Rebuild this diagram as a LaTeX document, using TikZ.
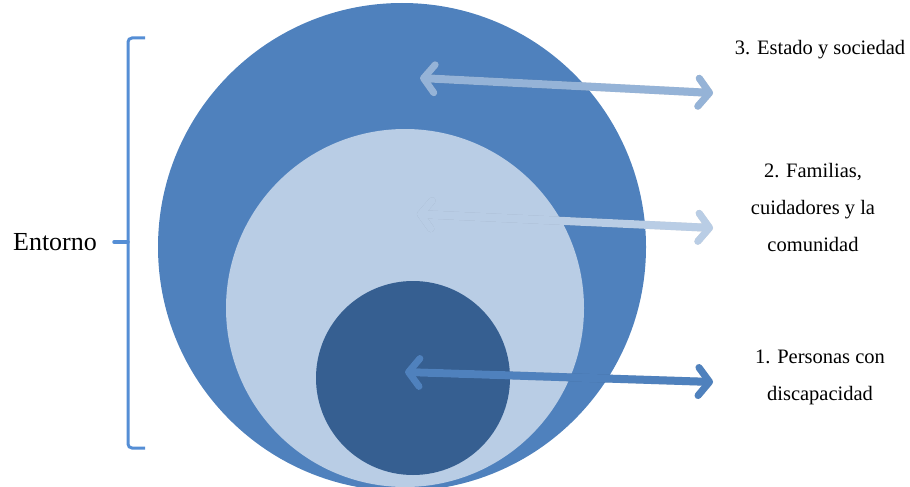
\documentclass[tikz,border=0pt]{standalone}
\usepackage{fontspec}
\setmainfont{Liberation Serif}
\usetikzlibrary{arrows.meta, positioning}
\definecolor{outer}{RGB}{79,129,189}
\definecolor{middle}{RGB}{185,205,229}
\definecolor{inner}{RGB}{54,95,145}
\definecolor{arrowtop}{RGB}{149,179,215}
\definecolor{arrowmid}{RGB}{185,205,229}
\definecolor{bracecol}{RGB}{85,142,213}

\begin{document}
\begin{tikzpicture}[
  x=1pt, y=-1pt,
  every node/.style={font=\fontsize{20.5}{37}\selectfont},
  ring/.style={circle, inner sep=0pt},
  label/.style={align=center},
  barb/.tip={Straight Barb[length=11pt, width=28pt, line width=7pt, line cap=round, line join=round]},
  link/.style={line width=8pt, line cap=round, {barb}-{barb}},
  shade/.style={link, black, opacity=0.14, shift={(1.5,3)}}
]
\useasboundingbox (0,0) rectangle (910,487);

\node[ring, fill=outer, minimum size=488pt] (big) at (402,247) {};
\node[ring, fill=middle, minimum size=358pt] (mid) at (405,308) {};
\node[ring, fill=inner, minimum size=194pt] (small) at (413,378) {};

\node[label] (t3) at (820,50) {3. Estado y sociedad};
\node[label] (t2) at (813,207) {2. Familias,\\cuidadores y la\\comunidad};
\node[label] (t1) at (820,377) {1. Personas con\\discapacidad};
\node[font=\fontsize{26}{30}\selectfont] (env) at (55,242) {Entorno};

\coordinate (a3) at (420,78);
\coordinate (b3) at (713,93);
\coordinate (a2) at (417,214);
\coordinate (b2) at (713,228);
\coordinate (a1) at (405,372);
\coordinate (b1) at (713,382);

% Arrows
\draw[shade] (a3) -- (b3);
\draw[link, arrowtop] (a3) -- (b3);
\draw[shade] (a2) -- (b2);
\draw[link, arrowmid] (a2) -- (b2);
\draw[shade] (a1) -- (b1);
\draw[link, outer] (a1) -- (b1);

% Brace
\draw[bracecol, line width=3pt, rounded corners=4pt]
  (145,38) -- (128,38) -- (128,242) -- (128,448) -- (145,448);
\draw[bracecol, line width=3.5pt, line cap=round] (128,242) -- (114,242);

\end{tikzpicture}
\end{document}
